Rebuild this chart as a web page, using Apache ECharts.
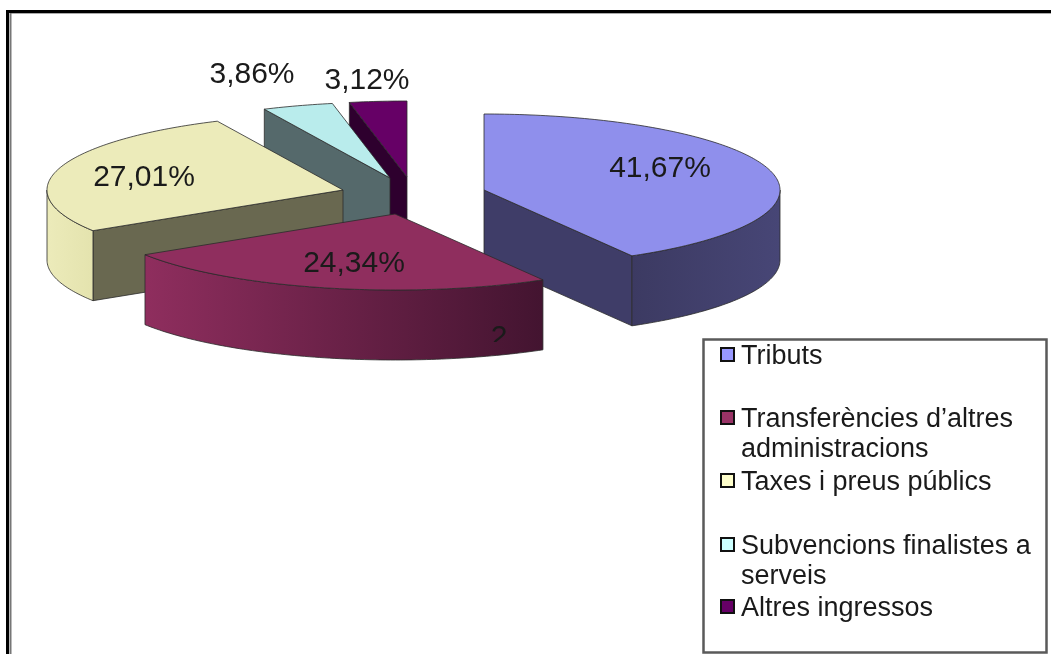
<!DOCTYPE html>
<html>
<head>
<meta charset="utf-8">
<style>
html, body { margin: 0; padding: 0; background: #fff; }
#root { width: 1051px; height: 654px; filter: blur(0.5px); }
</style>
<script src="https://cdn.jsdelivr.net/npm/echarts@6/dist/echarts.min.js"></script>
</head>
<body>
<div id="root"></div>
<script>
// dades del grafic
const categories = ['Tributs', "Transferències d’altres", 'Taxes i preus públics', 'Subvencions finalistes a', 'Altres ingressos'];
const secondLines = ['', 'administracions', '', 'serveis', ''];
const values = [41.67, 24.34, 27.01, 3.86, 3.12];
const labels = ['41,67%', '24,34%', '27,01%', '3,86%', '3,12%'];

// colors
const topColors = ['#8f8fec', '#8f2e5e', '#ecebba', '#b9ecec', '#660066'];
const sideColors = ['#3f3d68', '#7a2850', '#696850', '#55696b', '#2e002e'];
const arcColors = [['#474676', '#3c3a62'], ['#8f2e5e', '#431430'], ['#ecebba', '#e4e3ae'], ['#55696b', '#55696b'], ['#2e002e', '#2e002e']];
const legendColors = ['#9999ff', '#993366', '#ffffcc', '#ccffff', '#660066'];

// geometria de la perspectiva
const RX = 296;
const RY = 76;
const DEPTH = 70;
const FONT = '"Liberation Sans", Arial, sans-serif';
const centers = [[484, 190], [395, 214], [343, 190], [390, 178], [407, 177]];
const labelPos = [[660, 169], [354, 264], [144, 178], [252, 75], [367, 81]];
const drawOrder = [4, 3, 2, 0, 1];
const legendRows = [357, 420, 483, 547, 609];

const startAngles = values.map((v, i) => values.slice(0, i).reduce((a, b) => a + b, 0) * 3.6);

let point = function (c, deg, dy) {
    let r = deg * Math.PI / 180;
    return [c[0] + RX * Math.sin(r), c[1] - RY * Math.cos(r) + (dy || 0)];
};

let arcPoints = function (c, from, to, dy) {
    let pts = [];
    let n = Math.max(2, Math.ceil(to - from));
    for (let k = 0; k <= n; k++) {
        pts.push(point(c, from + (to - from) * k / n, dy));
    }
    return pts;
};

let poly = function (points, fill) {
    return {
        type: 'polygon',
        shape: { points: points },
        style: { fill: fill, stroke: '#2b2b2b', lineWidth: 0.8 }
    };
};

let renderSlice = function (params, api) {
    let i = api.value(0);
    let c = centers[i];
    let a0 = startAngles[i];
    let a1 = a0 + api.value(1) * 3.6;
    let below = [c[0], c[1] + DEPTH];
    let children = [];

    // cara radial visible
    if (a0 >= 180) {
        let p = point(c, a0);
        children.push(poly([c, p, point(c, a0, DEPTH), below], sideColors[i]));
    }
    if (a1 <= 180) {
        let p = point(c, a1);
        children.push(poly([c, p, point(c, a1, DEPTH), below], sideColors[i]));
    }

    // paret exterior, nomes la part frontal
    let w0 = Math.max(a0, 90);
    let w1 = Math.min(a1, 270);
    if (w1 > w0) {
        let fill = new echarts.graphic.LinearGradient(0, 0, 1, 0, [
            { offset: 0, color: arcColors[i][i === 0 ? 1 : 0] },
            { offset: 1, color: arcColors[i][i === 0 ? 0 : 1] }
        ]);
        let upper = arcPoints(c, w0, w1, 0);
        let lower = arcPoints(c, w0, w1, DEPTH).reverse();
        children.push(poly(upper.concat(lower), fill));
    }

    // cara superior
    children.push(poly([c].concat(arcPoints(c, a0, a1, 0)), topColors[i]));

    children.push({
        type: 'text',
        z2: 10,
        style: {
            x: labelPos[i][0], y: labelPos[i][1],
            text: labels[i],
            font: '30px ' + FONT,
            fill: '#1a1a1a',
            align: 'center',
            verticalAlign: 'middle'
        }
    });

    // resta d'un "2" retallat sobre la paret
    if (i === 1) {
        children.push({
            type: 'text',
            z2: 10,
            clipPath: { type: 'rect', shape: { x: 480, y: 320, width: 40, height: 22 } },
            style: {
                x: 499, y: 338,
                text: '2',
                font: '30px ' + FONT,
                fill: '#1a1a1a',
                align: 'center',
                verticalAlign: 'middle'
            }
        });
    }
    return { type: 'group', children: children };
};

// marc i llegenda
let graphics = [
    { type: 'line', shape: { x1: 6, y1: 11.5, x2: 1051, y2: 11.5 }, style: { stroke: '#000', lineWidth: 3 } },
    { type: 'line', shape: { x1: 11, y1: 13.5, x2: 1051, y2: 13.5 }, style: { stroke: '#aaa', lineWidth: 1 } },
    { type: 'line', shape: { x1: 7.5, y1: 10, x2: 7.5, y2: 654 }, style: { stroke: '#000', lineWidth: 3 } },
    { type: 'line', shape: { x1: 10.5, y1: 13, x2: 10.5, y2: 654 }, style: { stroke: '#777', lineWidth: 2 } },
    { type: 'rect', shape: { x: 703.5, y: 339.5, width: 343, height: 313 }, style: { fill: '#fff', stroke: '#5a5a5a', lineWidth: 2.5 } }
];

categories.forEach((name, i) => {
    graphics.push({
        type: 'rect',
        shape: { x: 721, y: legendRows[i] - 9, width: 13, height: 13 },
        style: { fill: legendColors[i], stroke: '#111', lineWidth: 2 }
    });
    graphics.push({
        type: 'text',
        style: { x: 741, y: legendRows[i], text: name, font: '27px ' + FONT, fill: '#1a1a1a', verticalAlign: 'middle' }
    });
    if (secondLines[i]) {
        graphics.push({
            type: 'text',
            style: { x: 741, y: legendRows[i] + 30, text: secondLines[i], font: '27px ' + FONT, fill: '#1a1a1a', verticalAlign: 'middle' }
        });
    }
});

let myChart = echarts.init(document.getElementById('root'));
myChart.setOption({
    animation: false,
    backgroundColor: '#fff',
    graphic: graphics,
    series: [{
        type: 'custom',
        coordinateSystem: 'none',
        renderItem: renderSlice,
        data: drawOrder.map(i => [i, values[i]])
    }]
});
</script>
</body>
</html>
